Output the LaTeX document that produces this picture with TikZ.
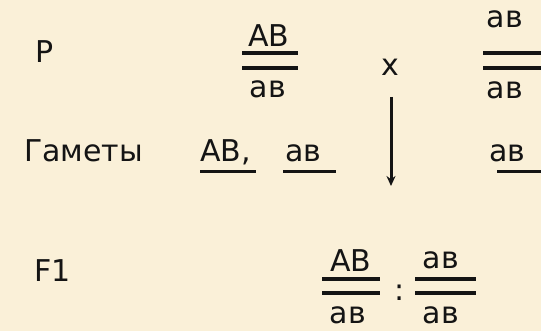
\documentclass[tikz,border=0pt]{standalone}
\usepackage{fontspec}
\setmainfont{DejaVu Sans}
\usetikzlibrary{arrows.meta}
\definecolor{bgcream}{RGB}{250,240,216}
\definecolor{ink}{RGB}{20,20,20}
\tikzset{
  txt/.style={font=\fontsize{30}{36}\selectfont, inner sep=0pt, text=ink},
  bar/.style={line width=3.5pt, ink},
  uline/.style={line width=3pt, ink},
}
\begin{document}
\begin{tikzpicture}[x=1pt,y=-1pt]
\fill[bgcream] (0,0) rectangle (541,331);
\useasboundingbox (0,0) rectangle (541,331);
% row P
\node[txt, anchor=base west] (P) at (35,63) {P};
\node[txt, anchor=base] (n1) at (269,47) {АВ};
\node[txt, anchor=base] (d1) at (268,98) {ав};
\draw[bar] (242,53) -- (298,53);
\draw[bar] (242,68) -- (298,68);
\node[txt, anchor=base] (cross) at (390,76) {х};
\node[txt, anchor=base] (n2) at (505,28) {ав};
\node[txt, anchor=base] (d2) at (505,99) {ав};
\draw[bar] (483,53) -- (541,53);
\draw[bar] (483,68) -- (541,68);
\coordinate (atop) at (391,97);
\coordinate (abot) at (391,186);
\draw[line width=3pt, ink, -{Stealth[length=10pt,width=9pt]}] (atop) -- (abot);
% row gametes
\node[txt, anchor=base west] (gam) at (24,162) {Гаметы};
\node[txt, anchor=base west] (g1) at (200,162) {АВ,};
\node[txt, anchor=base west] (g2) at (285,162) {ав};
\node[txt, anchor=base west] (g3) at (489,162) {ав};
\draw[uline] (200,172) -- (256,172);
\draw[uline] (283,172) -- (336,172);
\draw[uline] (497,172) -- (541,172);
% row F1
\node[txt, anchor=base west] (F1) at (34,282) {F1};
\node[txt, anchor=base] (n3) at (351,272) {АВ};
\node[txt, anchor=base] (d3) at (348,323) {ав};
\draw[bar] (322,279) -- (380,279);
\draw[bar] (322,293) -- (380,293);
\node[txt, anchor=base] (colon) at (400,300) {:};
\node[txt, anchor=base] (n4) at (441,269) {ав};
\node[txt, anchor=base] (d4) at (441,323) {ав};
\draw[bar] (415,279) -- (476,279);
\draw[bar] (415,293) -- (476,293);
\end{tikzpicture}
\end{document}
